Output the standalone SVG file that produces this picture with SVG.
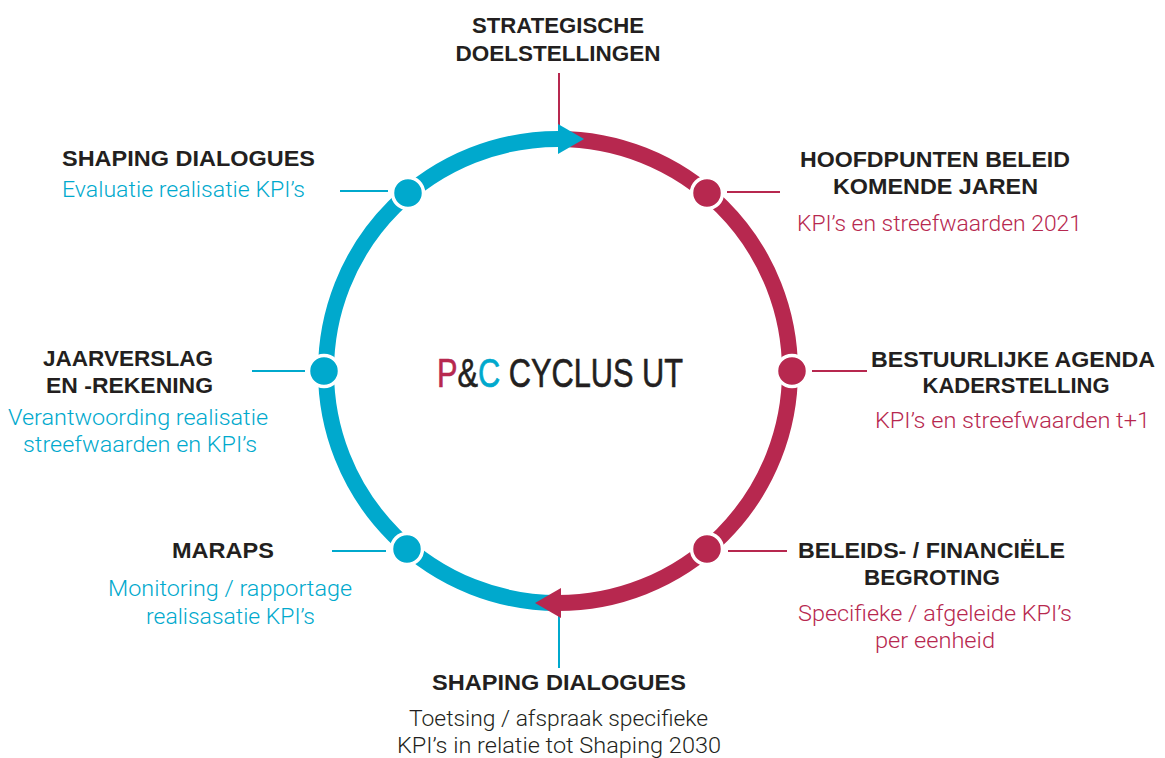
<svg xmlns="http://www.w3.org/2000/svg" width="1165" height="758" viewBox="0 0 1165 758">
<style>
.h{font-family:"Liberation Sans",Arial,sans-serif;font-weight:bold;font-size:22px;fill:#231f20;text-anchor:middle}
.s{font-family:Roboto,"Liberation Sans",Arial,sans-serif;font-weight:300;font-size:22px;text-anchor:middle}
.t{fill:#00a9cd}.r{fill:#b7284f}.d{fill:#231f20}
.ln{stroke-width:2;fill:none}
.lt{stroke:#00a9cd}.lr{stroke:#b7284f}
.nt{fill:#00a9cd;stroke:#fff;stroke-width:3.5}
.nr{fill:#b7284f;stroke:#fff;stroke-width:3.5}
.ti{font-family:"Liberation Sans",Arial,sans-serif;font-size:40px;stroke-width:0.6}
</style>
<rect width="1165" height="758" fill="#fff"/>
<g id="connectors">
<line class="ln lr" x1="559" y1="73" x2="559" y2="139"/>
<line class="ln lt" x1="559" y1="603" x2="559" y2="668"/>
<path d="M558 139 A232 232 0 0 1 558 603" fill="none" stroke="#b7284f" stroke-width="16"/>
<path d="M558 603 A232 232 0 0 1 558 139" fill="none" stroke="#00a9cd" stroke-width="16"/>
<polygon points="558,124 584,139 558,154" fill="#00a9cd"/>
<polygon points="561,588 535,603 561,618" fill="#b7284f"/>
<line class="ln lr" x1="727" y1="192" x2="780" y2="192"/>
<line class="ln lr" x1="812" y1="371" x2="867" y2="371"/>
<line class="ln lr" x1="728" y1="551" x2="787" y2="551"/>
<line class="ln lt" x1="340" y1="191" x2="388" y2="191"/>
<line class="ln lt" x1="252" y1="371" x2="305" y2="371"/>
<line class="ln lt" x1="332" y1="551" x2="386" y2="551"/>
</g>
<g id="title">
<text class="ti" x="560" y="387" textLength="246" lengthAdjust="spacingAndGlyphs" text-anchor="middle" fill="#231f20" stroke="#231f20"><tspan fill="#b7284f" stroke="#b7284f">P</tspan>&amp;<tspan fill="#00a9cd" stroke="#00a9cd">C</tspan> CYCLUS UT</text>
</g>
<g id="node-strategische">
<text class="h" x="558" y="33" textLength="172" lengthAdjust="spacingAndGlyphs">STRATEGISCHE</text>
<text class="h" x="558" y="61" textLength="205" lengthAdjust="spacingAndGlyphs">DOELSTELLINGEN</text>
</g>
<g id="node-hoofdpunten">
<circle class="nr" cx="707" cy="193" r="15.5"/>
<text class="h" x="935" y="167" textLength="270" lengthAdjust="spacingAndGlyphs">HOOFDPUNTEN BELEID</text>
<text class="h" x="935.5" y="194" textLength="205" lengthAdjust="spacingAndGlyphs">KOMENDE JAREN</text>
<text class="s r" x="939.5" y="231" textLength="285" lengthAdjust="spacingAndGlyphs">KPI’s en streefwaarden 2021</text>
</g>
<g id="node-bestuurlijke">
<circle class="nr" cx="792" cy="371" r="15.5"/>
<text class="h" x="1013" y="367" textLength="284" lengthAdjust="spacingAndGlyphs">BESTUURLIJKE AGENDA</text>
<text class="h" x="1016" y="393" textLength="187" lengthAdjust="spacingAndGlyphs">KADERSTELLING</text>
<text class="s r" x="1012.5" y="428" textLength="275" lengthAdjust="spacingAndGlyphs">KPI’s en streefwaarden t+1</text>
</g>
<g id="node-begroting">
<circle class="nr" cx="707" cy="549" r="15.5"/>
<text class="h" x="931.5" y="558" textLength="267" lengthAdjust="spacingAndGlyphs">BELEIDS- / FINANCIËLE</text>
<text class="h" x="932" y="585" textLength="136" lengthAdjust="spacingAndGlyphs">BEGROTING</text>
<text class="s r" x="935" y="621" textLength="274" lengthAdjust="spacingAndGlyphs">Specifieke / afgeleide KPI’s</text>
<text class="s r" x="935" y="648" textLength="120" lengthAdjust="spacingAndGlyphs">per eenheid</text>
</g>
<g id="node-shaping-bottom">
<text class="h" x="559" y="690" textLength="254" lengthAdjust="spacingAndGlyphs">SHAPING DIALOGUES</text>
<text class="s d" x="558.5" y="726" textLength="299" lengthAdjust="spacingAndGlyphs">Toetsing / afspraak specifieke</text>
<text class="s d" x="559" y="753" textLength="324" lengthAdjust="spacingAndGlyphs">KPI’s in relatie tot Shaping 2030</text>
</g>
<g id="node-maraps">
<circle class="nt" cx="407" cy="549" r="15.5"/>
<text class="h" x="223" y="558" textLength="102" lengthAdjust="spacingAndGlyphs">MARAPS</text>
<text class="s t" x="230" y="596" textLength="244" lengthAdjust="spacingAndGlyphs">Monitoring / rapportage</text>
<text class="s t" x="230.5" y="624" textLength="169" lengthAdjust="spacingAndGlyphs">realisasatie KPI’s</text>
</g>
<g id="node-jaarverslag">
<circle class="nt" cx="324" cy="371" r="15.5"/>
<text class="h" x="128" y="366" textLength="170" lengthAdjust="spacingAndGlyphs">JAARVERSLAG</text>
<text class="h" x="129.5" y="393" textLength="167" lengthAdjust="spacingAndGlyphs">EN -REKENING</text>
<text class="s t" x="138" y="425" textLength="260" lengthAdjust="spacingAndGlyphs">Verantwoording realisatie</text>
<text class="s t" x="140" y="452" textLength="234" lengthAdjust="spacingAndGlyphs">streefwaarden en KPI’s</text>
</g>
<g id="node-shaping-top">
<circle class="nt" cx="408" cy="193" r="15.5"/>
<text class="h" x="62" y="166" style="text-anchor:start" textLength="253" lengthAdjust="spacingAndGlyphs">SHAPING DIALOGUES</text>
<text class="s t" x="62" y="197" style="text-anchor:start" textLength="243" lengthAdjust="spacingAndGlyphs">Evaluatie realisatie KPI’s</text>
</g>
</svg>
